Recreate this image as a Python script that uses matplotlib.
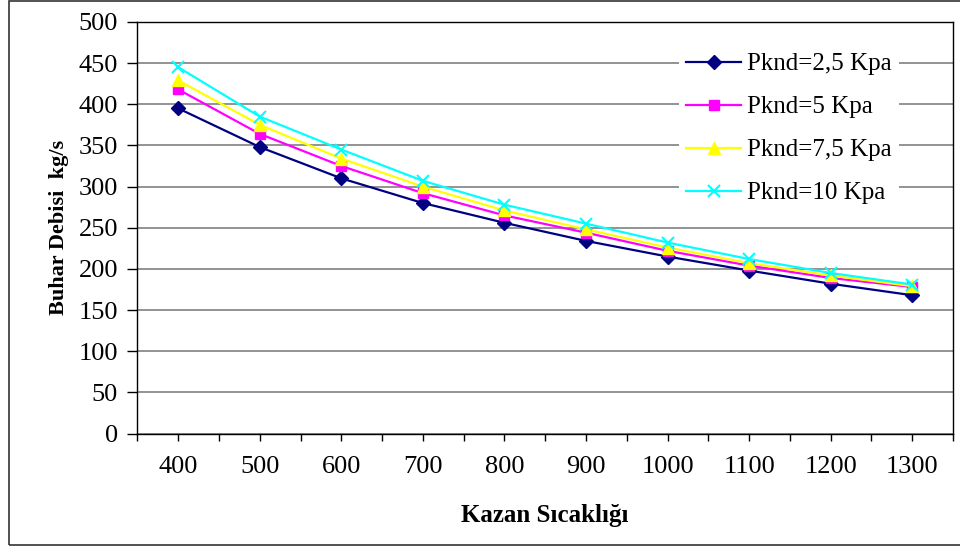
import matplotlib
matplotlib.use("Agg")
import matplotlib.pyplot as plt
from matplotlib.patches import Rectangle
import numpy as np

# boiler temperature categories and steam flow for each condenser pressure
sicaklik = [400, 500, 600, 700, 800, 900, 1000, 1100, 1200, 1300]
p_2_5 = [395, 348, 310, 280, 256, 234, 215, 198, 182, 168]
p_5 = [418, 364, 325, 292, 265, 244, 222, 204, 189, 178]
p_7_5 = [429, 375, 334, 300, 271, 248, 226, 207, 192, 179]
p_10 = [445, 385, 345, 307, 278, 255, 232, 212, 195, 181]
etiketler = ["Pknd=2,5 Kpa", "Pknd=5 Kpa", "Pknd=7,5 Kpa", "Pknd=10 Kpa"]

plt.rcParams['font.family'] = ['Liberation Serif', 'DejaVu Serif']

fig = plt.figure(figsize=(9.6, 5.48), dpi=100)
ax = fig.add_axes([0.1432, 0.2089, 0.8495, 0.751])

x = np.arange(len(sicaklik))
ax.plot(x, p_2_5, color='#000080', lw=1.6, marker='D', ms=7, label=etiketler[0])
ax.plot(x, p_5, color='#FF00FF', lw=1.6, marker='s', ms=7, label=etiketler[1])
ax.plot(x, p_7_5, color='#FFFF00', lw=1.6, marker='^', ms=9, label=etiketler[2])
ax.plot(x, p_10, color='#00FFFF', lw=1.6, marker='x', ms=9, mew=1.5, label=etiketler[3])

ax.set_xlim(-0.5, len(sicaklik) - 0.5)
ax.set_ylim(0, 500)
ax.set_yticks(np.arange(0, 501, 50))
ax.set_xticks(x)
ax.set_xticklabels([str(s) for s in sicaklik])
ax.set_xticks(np.arange(-0.5, len(sicaklik), 1.0), minor=True)

ax.yaxis.grid(True, color='#808080', lw=1.2)
ax.set_axisbelow(True)
for s in ax.spines.values():
    s.set_color('black')
    s.set_linewidth(1.0)

ax.tick_params(axis='y', direction='out', length=7, width=1, labelsize=19, pad=7)
ax.tick_params(axis='x', which='both', direction='out', length=5, width=1, labelsize=19, pad=11)

ax.set_xlabel("Kazan Sıcaklığı", fontsize=18, fontweight='bold', labelpad=19)
ax.set_ylabel("Buhar Debisi  kg/s", fontsize=16, fontweight='bold', labelpad=7)

leg = ax.legend(loc='upper left', bbox_to_anchor=(0.694, 0.94), bbox_transform=fig.transFigure,
                frameon=True, fancybox=False, facecolor='white', edgecolor='none',
                fontsize=18, handlelength=2.2, handletextpad=0.24, labelspacing=0.82,
                borderpad=0.3, framealpha=1)

# outer chart frame
fig.patches.append(Rectangle((0.0094, 0.0055), 1.0, 0.9925, transform=fig.transFigure,
                             fill=False, edgecolor='#333333', lw=1.2))

fig.savefig("out.png", dpi=100)
